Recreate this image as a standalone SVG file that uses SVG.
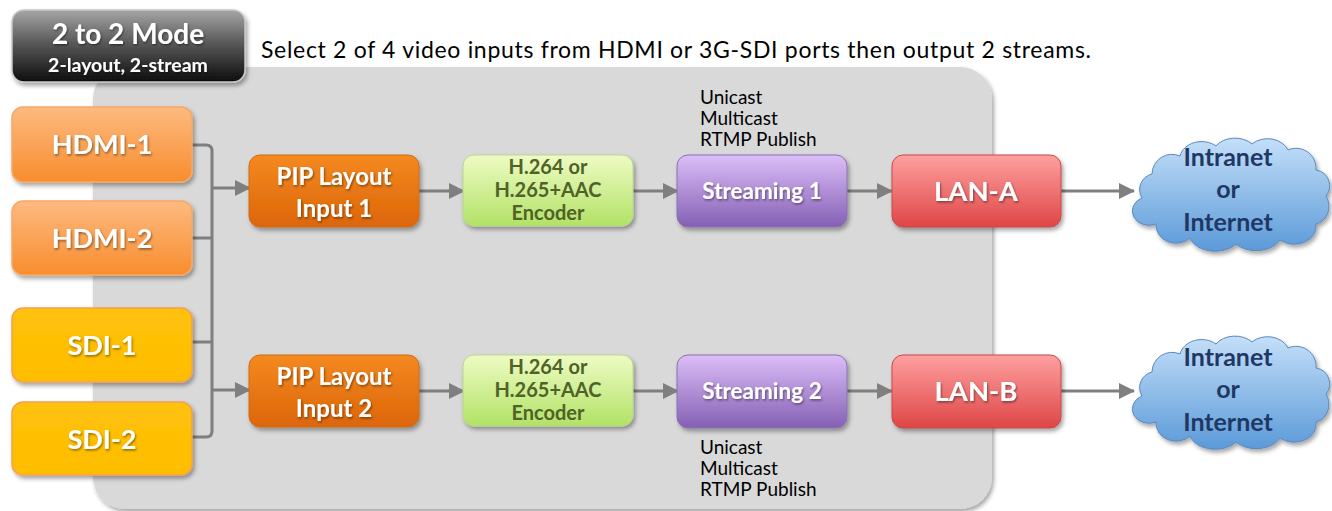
<svg xmlns="http://www.w3.org/2000/svg" xmlns:xlink="http://www.w3.org/1999/xlink" width="1332" height="511" viewBox="0 0 1332 511">
<defs>
<style>
.b{font-family:Lato,"Open Sans","Liberation Sans",sans-serif;font-weight:bold;text-anchor:middle}
.r{font-family:Lato,"Open Sans","Liberation Sans",sans-serif;font-weight:normal}
.w{fill:#ffffff}
.conn{fill:none;stroke:#7f7f7f;stroke-width:3}
.lbl{font-size:19px;fill:#000000}
</style>
<linearGradient id="gTitle" x1="0" y1="0" x2="0" y2="1"><stop offset="0" stop-color="#a6a6a6"/><stop offset="0.45" stop-color="#5a5a5a"/><stop offset="1" stop-color="#0d0d0d"/></linearGradient>
<linearGradient id="gHdmi" x1="0" y1="0" x2="0" y2="1"><stop offset="0" stop-color="#fdba80"/><stop offset="1" stop-color="#f88d2e"/></linearGradient>
<linearGradient id="gSdi" x1="0" y1="0" x2="0" y2="1"><stop offset="0" stop-color="#ffc20a"/><stop offset="1" stop-color="#ffbd00"/></linearGradient>
<linearGradient id="gPip" x1="0" y1="0" x2="0" y2="1"><stop offset="0" stop-color="#f4891f"/><stop offset="1" stop-color="#dc6508"/></linearGradient>
<linearGradient id="gEnc" x1="0" y1="0" x2="0" y2="1"><stop offset="0" stop-color="#eefbc4"/><stop offset="1" stop-color="#b2e266"/></linearGradient>
<linearGradient id="gStr" x1="0" y1="0" x2="0" y2="1"><stop offset="0" stop-color="#dcbef8"/><stop offset="1" stop-color="#8460b4"/></linearGradient>
<linearGradient id="gLan" x1="0" y1="0" x2="0" y2="1"><stop offset="0" stop-color="#ffa0a0"/><stop offset="1" stop-color="#de4646"/></linearGradient>
<linearGradient id="gCloud" x1="0" y1="0" x2="0" y2="1"><stop offset="0" stop-color="#c4dff9"/><stop offset="1" stop-color="#5b9ad8"/></linearGradient>
<filter id="sh" x="-10%" y="-10%" width="125%" height="135%"><feDropShadow dx="2" dy="3" stdDeviation="2" flood-color="#000" flood-opacity="0.35"/></filter>
<filter id="tsh" x="-10%" y="-20%" width="125%" height="150%"><feDropShadow dx="1" dy="1.5" stdDeviation="1" flood-color="#000" flood-opacity="0.45"/></filter>
<marker id="arr" markerUnits="userSpaceOnUse" markerWidth="16" markerHeight="16" refX="15" refY="8" orient="auto"><path d="M0,0 L16,8 L0,16 Z" fill="#7f7f7f"/></marker>
<path id="cloud" d="M10,62 A16,16 0 0 1 20,38 A20,20 0 0 1 48,20 A22,18 0 0 1 84,10 A22,16 0 0 1 120,8 A22,18 0 0 1 156,14 A20,20 0 0 1 184,34 A16,16 0 0 1 194,60 A16,18 0 0 1 184,88 A22,18 0 0 1 148,104 A26,18 0 0 1 104,108 A26,18 0 0 1 58,102 A20,18 0 0 1 24,88 A14,12 0 0 1 10,62 Z"/>
</defs>

<rect id="panel" x="93" y="67" width="899" height="442" rx="32" fill="#d9d9d9" filter="url(#sh)"/>

<g id="title">
<rect x="12" y="10" width="233" height="72" rx="12" fill="url(#gTitle)" stroke="#c8c8c8" stroke-width="1.5" filter="url(#sh)"/>
<text class="b w" x="128" y="44" font-size="28" filter="url(#tsh)">2 to 2 Mode</text>
<text class="b w" x="128" y="72" font-size="19.5" filter="url(#tsh)">2-layout, 2-stream</text>
</g>

<text id="subtitle" class="r" x="261" y="58" font-size="23" fill="#000" textLength="830" lengthAdjust="spacing">Select 2 of 4 video inputs from HDMI or 3G-SDI ports then output 2 streams.</text>

<g id="connectors">
<path class="conn" d="M192,145 L206,145 Q212,145 212,151 L212,431 Q212,437 206,437 L192,437"/>
<path class="conn" d="M192,238 L212,238"/>
<path class="conn" d="M192,342 L212,342"/>
<path class="conn" d="M212,188 L250,188" marker-end="url(#arr)"/>
<path class="conn" d="M212,390 L250,390" marker-end="url(#arr)"/>
<path class="conn" d="M419,191 L464,191" marker-end="url(#arr)"/>
<path class="conn" d="M633,191 L678,191" marker-end="url(#arr)"/>
<path class="conn" d="M847,191 L892,191" marker-end="url(#arr)"/>
<path class="conn" d="M1061,191 L1134,191" marker-end="url(#arr)"/>
<path class="conn" d="M419,391 L464,391" marker-end="url(#arr)"/>
<path class="conn" d="M633,391 L678,391" marker-end="url(#arr)"/>
<path class="conn" d="M847,391 L892,391" marker-end="url(#arr)"/>
<path class="conn" d="M1061,391 L1134,391" marker-end="url(#arr)"/>
</g>

<g id="hdmi1">
<rect x="12" y="107" width="180" height="75" rx="11" fill="url(#gHdmi)" stroke="#f5a868" stroke-width="1.5" filter="url(#sh)"/>
<text class="b w" x="102" y="154" font-size="27" filter="url(#tsh)">HDMI-1</text>
</g>
<g id="hdmi2">
<rect x="12" y="201" width="180" height="74" rx="11" fill="url(#gHdmi)" stroke="#f5a868" stroke-width="1.5" filter="url(#sh)"/>
<text class="b w" x="102" y="248" font-size="27" filter="url(#tsh)">HDMI-2</text>
</g>
<g id="sdi1">
<rect x="12" y="308" width="180" height="74" rx="11" fill="url(#gSdi)" stroke="#f5a050" stroke-width="1.5" filter="url(#sh)"/>
<text class="b w" x="102" y="355" font-size="27" filter="url(#tsh)">SDI-1</text>
</g>
<g id="sdi2">
<rect x="12" y="402" width="180" height="73" rx="11" fill="url(#gSdi)" stroke="#f5a050" stroke-width="1.5" filter="url(#sh)"/>
<text class="b w" x="102" y="449" font-size="27" filter="url(#tsh)">SDI-2</text>
</g>

<g id="pip1">
<rect x="249" y="155" width="170" height="72" rx="11" fill="url(#gPip)" stroke="#d06a1a" stroke-width="1" filter="url(#sh)"/>
<text class="b w" x="334" y="185" font-size="24" filter="url(#tsh)">PIP Layout</text>
<text class="b w" x="334" y="217" font-size="24" filter="url(#tsh)">Input 1</text>
</g>
<g id="pip2">
<rect x="249" y="355" width="170" height="72" rx="11" fill="url(#gPip)" stroke="#d06a1a" stroke-width="1" filter="url(#sh)"/>
<text class="b w" x="334" y="385" font-size="24" filter="url(#tsh)">PIP Layout</text>
<text class="b w" x="334" y="417" font-size="24" filter="url(#tsh)">Input 2</text>
</g>

<g id="enc1">
<rect x="463" y="155" width="170" height="71" rx="11" fill="url(#gEnc)" stroke="#b8d890" stroke-width="1" filter="url(#sh)"/>
<text class="b" x="548" y="174" font-size="20" fill="#4f6228">H.264 or</text>
<text class="b" x="548" y="197" font-size="20" fill="#4f6228">H.265+AAC</text>
<text class="b" x="548" y="220" font-size="20" fill="#4f6228">Encoder</text>
</g>
<g id="enc2">
<rect x="463" y="355" width="170" height="71" rx="11" fill="url(#gEnc)" stroke="#b8d890" stroke-width="1" filter="url(#sh)"/>
<text class="b" x="548" y="374" font-size="20" fill="#4f6228">H.264 or</text>
<text class="b" x="548" y="397" font-size="20" fill="#4f6228">H.265+AAC</text>
<text class="b" x="548" y="420" font-size="20" fill="#4f6228">Encoder</text>
</g>

<g id="stream1">
<rect x="677" y="155" width="170" height="72" rx="11" fill="url(#gStr)" stroke="#8a70b0" stroke-width="1" filter="url(#sh)"/>
<text class="b w" x="762" y="199" font-size="22.5" filter="url(#tsh)">Streaming 1</text>
<text class="r lbl" x="700" y="104">Unicast</text>
<text class="r lbl" x="700" y="125">Multicast</text>
<text class="r lbl" x="700" y="146">RTMP Publish</text>
</g>
<g id="stream2">
<rect x="677" y="355" width="170" height="73" rx="11" fill="url(#gStr)" stroke="#8a70b0" stroke-width="1" filter="url(#sh)"/>
<text class="b w" x="762" y="399" font-size="22.5" filter="url(#tsh)">Streaming 2</text>
<text class="r lbl" x="700" y="454">Unicast</text>
<text class="r lbl" x="700" y="475">Multicast</text>
<text class="r lbl" x="700" y="496">RTMP Publish</text>
</g>

<g id="lanA">
<rect x="892" y="155" width="169" height="72" rx="11" fill="url(#gLan)" stroke="#c84848" stroke-width="1" filter="url(#sh)"/>
<text class="b w" x="976" y="201" font-size="27.5" filter="url(#tsh)">LAN-A</text>
</g>
<g id="lanB">
<rect x="892" y="355" width="169" height="73" rx="11" fill="url(#gLan)" stroke="#c84848" stroke-width="1" filter="url(#sh)"/>
<text class="b w" x="976" y="401" font-size="27.5" filter="url(#tsh)">LAN-B</text>
</g>

<g id="cloud1">
<use xlink:href="#cloud" href="#cloud" transform="translate(1132,136)" fill="url(#gCloud)" stroke="#5a88c0" stroke-width="1" filter="url(#sh)"/>
<text class="b" x="1228" y="166" font-size="25" fill="#1f3864">Intranet</text>
<text class="b" x="1228" y="198" font-size="25" fill="#1f3864">or</text>
<text class="b" x="1228" y="231" font-size="25" fill="#1f3864">Internet</text>
</g>
<g id="cloud2">
<use xlink:href="#cloud" href="#cloud" transform="translate(1132,334)" fill="url(#gCloud)" stroke="#5a88c0" stroke-width="1" filter="url(#sh)"/>
<text class="b" x="1228" y="366" font-size="25" fill="#1f3864">Intranet</text>
<text class="b" x="1228" y="398" font-size="25" fill="#1f3864">or</text>
<text class="b" x="1228" y="431" font-size="25" fill="#1f3864">Internet</text>
</g>
</svg>
